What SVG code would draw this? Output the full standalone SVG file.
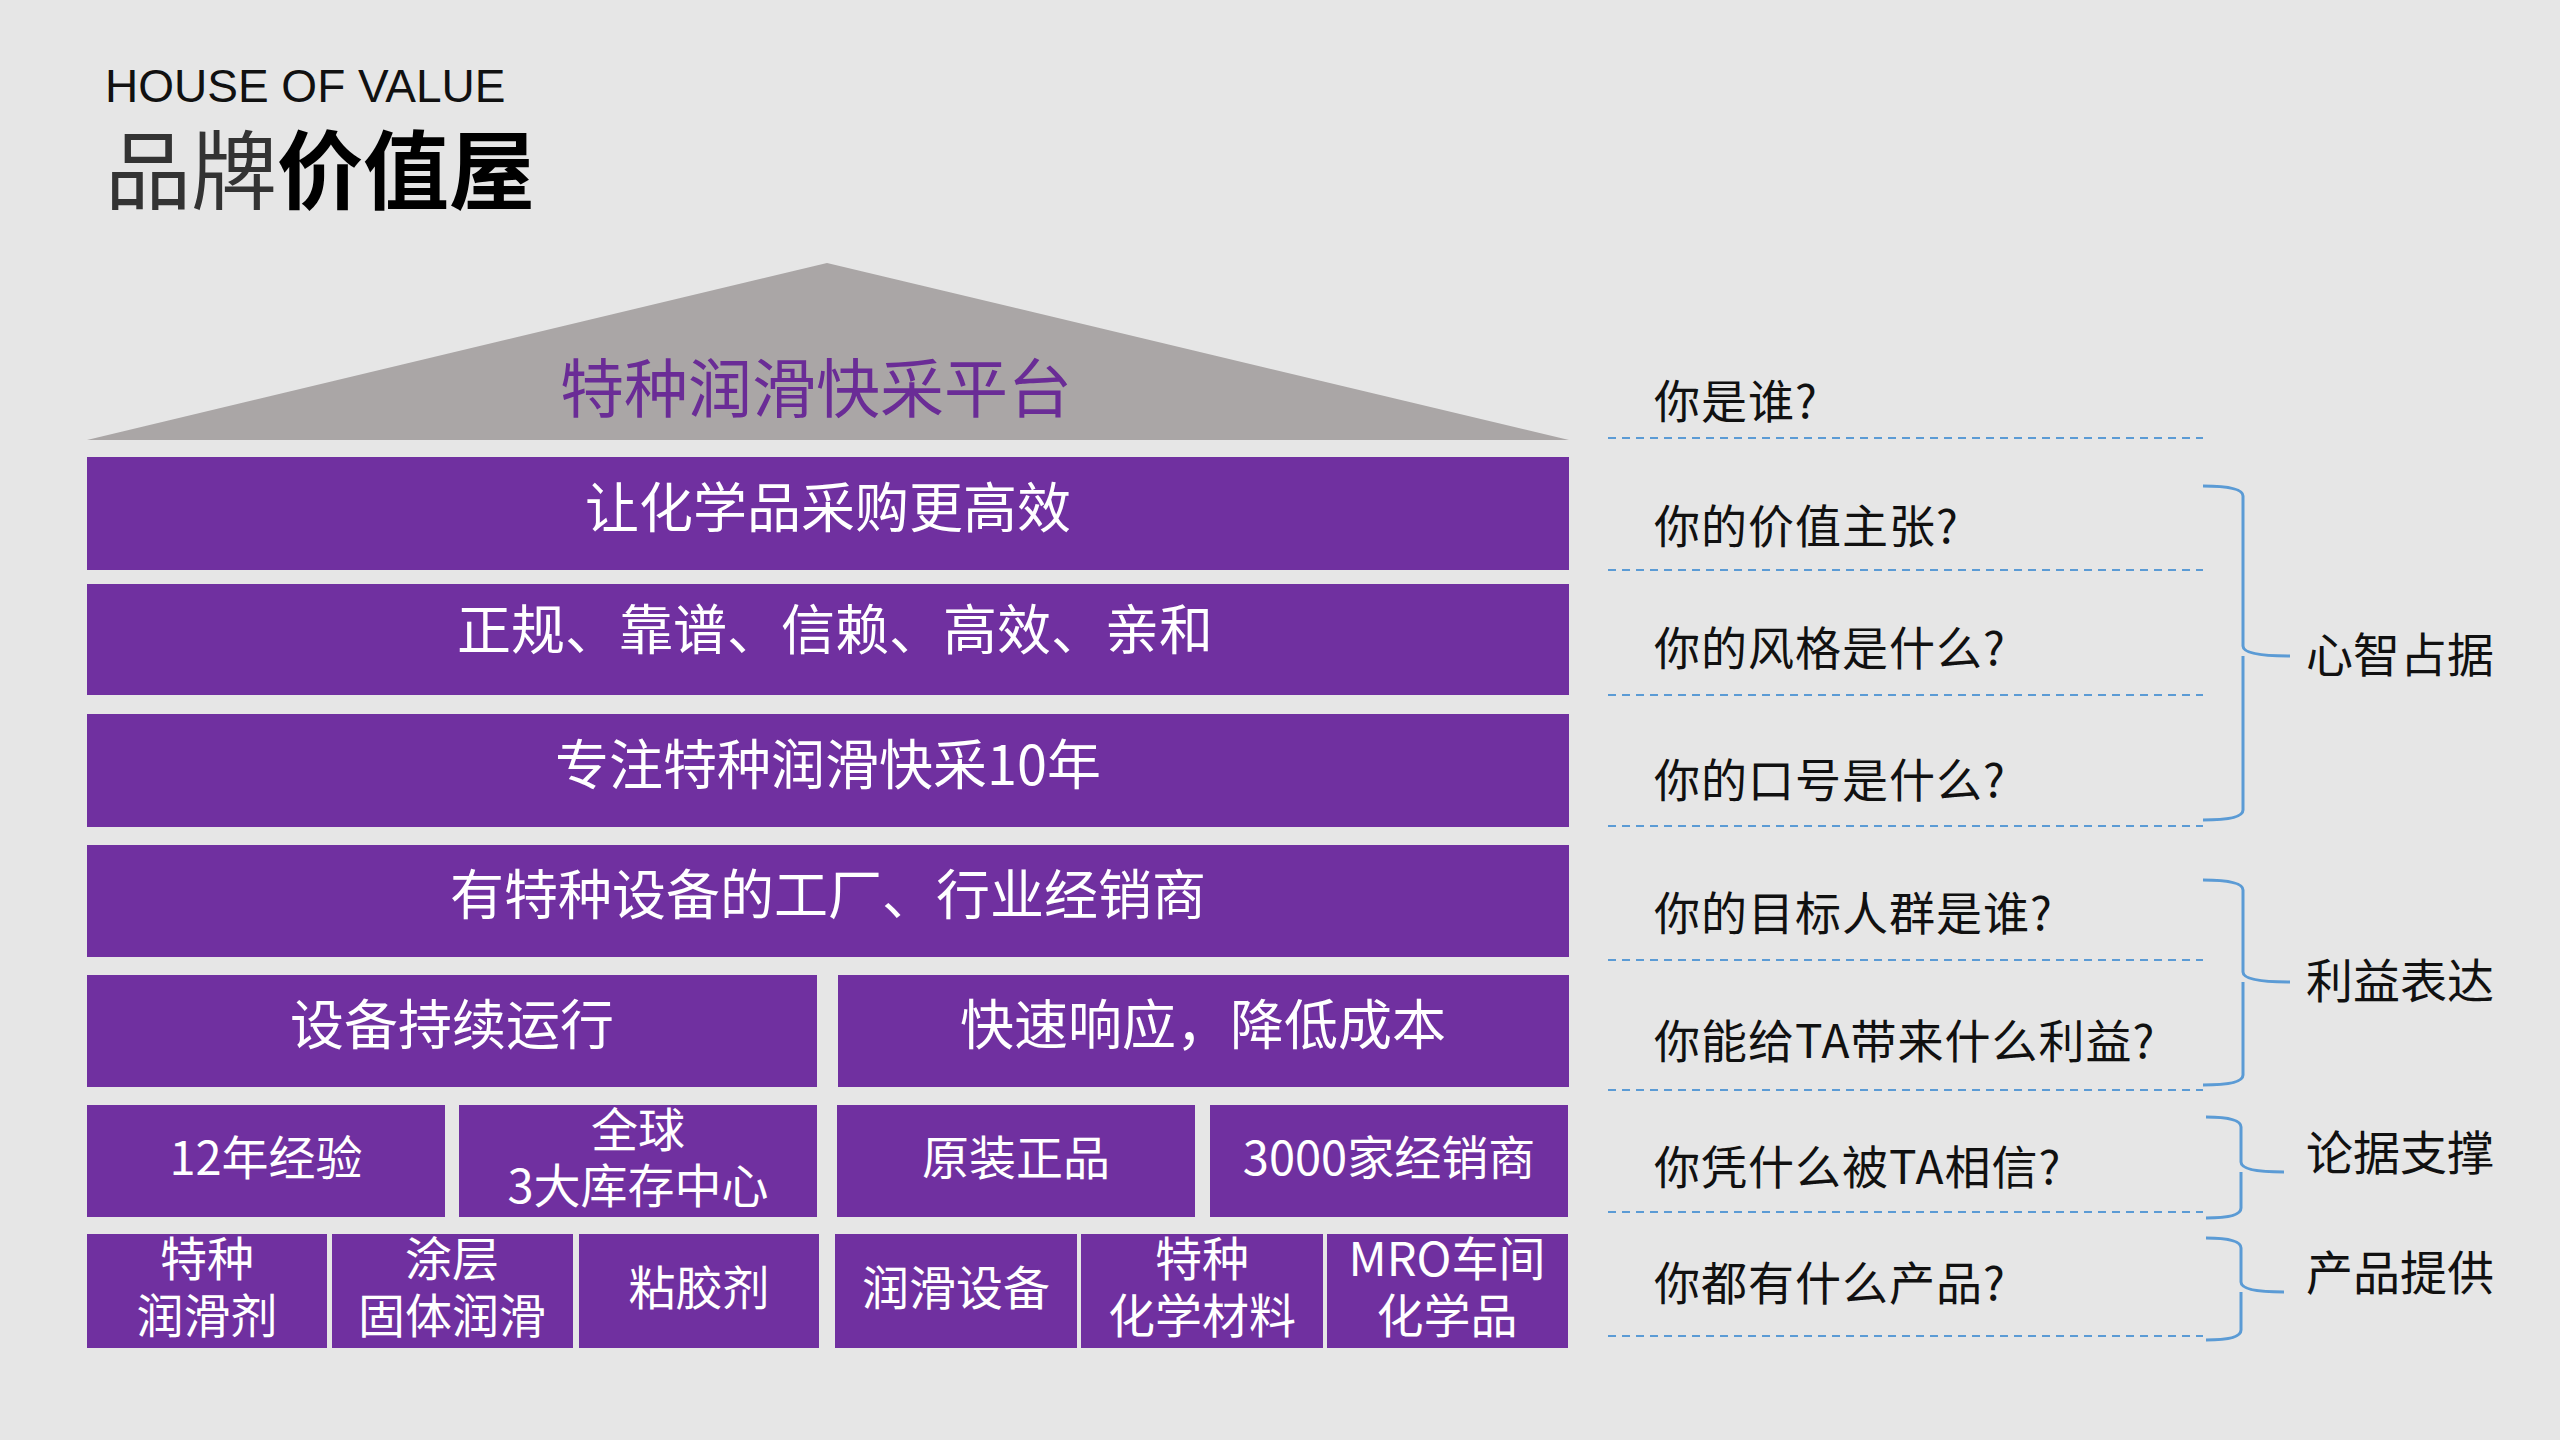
<svg xmlns="http://www.w3.org/2000/svg" width="2560" height="1440" viewBox="0 0 2560 1440">
<style>
text{font-family:"Noto Sans CJK SC","Noto Sans",sans-serif}
.bar{fill:#7030a0}
.bt{fill:#fff;font-size:54px;text-anchor:middle}
.st{fill:#fff;font-size:47px;text-anchor:middle}
.q{fill:#111;font-size:46px;letter-spacing:1px}
.lb{fill:#111;font-size:47px}
.dash{stroke:#5b9bd5;stroke-width:2;stroke-dasharray:8 6;fill:none}
.brace{stroke:#5b9bd5;stroke-width:3;fill:none}
</style>
<rect width="2560" height="1440" fill="#e6e6e6"/>
<g id="title">
<text x="105" y="102" style="font-family:'Liberation Sans',sans-serif" font-size="46" fill="#111">HOUSE OF VALUE</text>
<text x="105" y="203" font-size="86" fill="#333">品牌<tspan font-weight="bold" fill="#000">价值屋</tspan></text>
</g>
<g id="roof">
<polygon points="827,263 87,440 1569,440" fill="#aaa6a6"/>
<text x="816" y="412" font-size="64" fill="#6a2c96" text-anchor="middle">特种润滑快采平台</text>
</g>
<g id="r1"><rect class="bar" x="87" y="457" width="1482" height="113"/><text class="bt" x="828" y="528">让化学品采购更高效</text></g>
<g id="r2"><rect class="bar" x="87" y="584" width="1482" height="111"/><text class="bt" x="835" y="650">正规、靠谱、信赖、高效、亲和</text></g>
<g id="r3"><rect class="bar" x="87" y="714" width="1482" height="113"/><text class="bt" x="828" y="785">专注特种润滑快采10年</text></g>
<g id="r4"><rect class="bar" x="87" y="845" width="1482" height="112"/><text class="bt" x="828" y="915">有特种设备的工厂、行业经销商</text></g>
<g id="r5a"><rect class="bar" x="87" y="975" width="730" height="112"/><text class="bt" x="452" y="1045">设备持续运行</text></g>
<g id="r5b"><rect class="bar" x="838" y="975" width="731" height="112"/><text class="bt" x="1203" y="1045">快速响应，降低成本</text></g>
<g id="r6a"><rect class="bar" x="87" y="1105" width="358" height="112"/><text class="st" x="266" y="1175">12年经验</text></g>
<g id="r6b"><rect class="bar" x="459" y="1105" width="358" height="112"/><text class="st" x="638" y="1147">全球</text><text class="st" x="638" y="1203">3大库存中心</text></g>
<g id="r6c"><rect class="bar" x="837" y="1105" width="358" height="112"/><text class="st" x="1016" y="1175">原装正品</text></g>
<g id="r6d"><rect class="bar" x="1210" y="1105" width="358" height="112"/><text class="st" x="1389" y="1175">3000家经销商</text></g>
<g id="r7a"><rect class="bar" x="87" y="1234" width="240" height="114"/><text class="st" x="207" y="1276">特种</text><text class="st" x="207" y="1333">润滑剂</text></g>
<g id="r7b"><rect class="bar" x="332" y="1234" width="241" height="114"/><text class="st" x="452" y="1276">涂层</text><text class="st" x="452" y="1333">固体润滑</text></g>
<g id="r7c"><rect class="bar" x="579" y="1234" width="240" height="114"/><text class="st" x="699" y="1305">粘胶剂</text></g>
<g id="r7d"><rect class="bar" x="835" y="1234" width="242" height="114"/><text class="st" x="956" y="1305">润滑设备</text></g>
<g id="r7e"><rect class="bar" x="1081" y="1234" width="242" height="114"/><text class="st" x="1202" y="1276">特种</text><text class="st" x="1202" y="1333">化学材料</text></g>
<g id="r7f"><rect class="bar" x="1327" y="1234" width="241" height="114"/><text class="st" x="1447" y="1276">MRO车间</text><text class="st" x="1447" y="1333">化学品</text></g>
<g id="questions">
<text class="q" x="1654" y="418">你是谁?</text>
<text class="q" x="1654" y="543">你的价值主张?</text>
<text class="q" x="1654" y="665">你的风格是什么?</text>
<text class="q" x="1654" y="797">你的口号是什么?</text>
<text class="q" x="1654" y="930">你的目标人群是谁?</text>
<text class="q" x="1654" y="1058">你能给TA带来什么利益?</text>
<text class="q" x="1654" y="1184">你凭什么被TA相信?</text>
<text class="q" x="1654" y="1300">你都有什么产品?</text>
</g>
<g id="connectors">
<line class="dash" x1="1608" y1="438" x2="2203" y2="438"/>
<line class="dash" x1="1608" y1="570" x2="2203" y2="570"/>
<line class="dash" x1="1608" y1="695" x2="2203" y2="695"/>
<line class="dash" x1="1608" y1="826" x2="2203" y2="826"/>
<line class="dash" x1="1608" y1="960" x2="2203" y2="960"/>
<line class="dash" x1="1608" y1="1090" x2="2203" y2="1090"/>
<line class="dash" x1="1608" y1="1212" x2="2203" y2="1212"/>
<line class="dash" x1="1608" y1="1336" x2="2203" y2="1336"/>
<path class="brace" d="M2203,486 Q2243,486 2243,496 L2243,646 Q2243,656 2290,656 M2243,656 L2243,810 Q2243,820 2203,820"/>
<path class="brace" d="M2203,880 Q2243,880 2243,890 L2243,972 Q2243,982 2290,982 M2243,982 L2243,1075 Q2243,1085 2203,1085"/>
<path class="brace" d="M2206,1117 Q2241,1117 2241,1127 L2241,1162 Q2241,1172 2284,1172 M2241,1172 L2241,1208 Q2241,1218 2206,1218"/>
<path class="brace" d="M2206,1238 Q2241,1238 2241,1248 L2241,1282 Q2241,1292 2284,1292 M2241,1292 L2241,1330 Q2241,1340 2206,1340"/>
</g>
<g id="labels">
<text class="lb" x="2306" y="672">心智占据</text>
<text class="lb" x="2306" y="998">利益表达</text>
<text class="lb" x="2306" y="1170">论据支撑</text>
<text class="lb" x="2306" y="1290">产品提供</text>
</g>
</svg>
